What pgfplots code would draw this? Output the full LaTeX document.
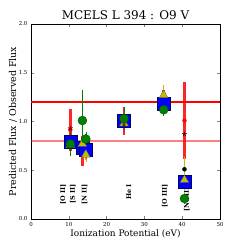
\documentclass[border=0pt]{standalone}
\usepackage{fontspec}
\setmainfont{DejaVu Serif}
\usepackage{pgfplots}
\pgfplotsset{compat=1.18}
\definecolor{mgreen}{rgb}{0,0.5,0}
\definecolor{myellow}{rgb}{0.75,0.75,0}
\begin{document}
\begin{tikzpicture}
\begin{axis}[
  name=ax, at={(0,0)}, anchor=south west,
  scale only axis, width=189bp, height=195bp,
  xmin=0, xmax=50, ymin=0, ymax=2,
  xtick={0,10,20,30,40,50}, ytick={0,0.5,1,1.5,2},
  /pgf/number format/assume math mode=true,
  yticklabel style={/pgf/number format/.cd, fixed, fixed zerofill, precision=1},
  tick align=inside, tick pos=both,
  major tick length=3bp,
  ticklabel style={font=\fontsize{5.5}{6}\selectfont},
  title={MCELS L 394 : O9 V},
  title style={font=\fontsize{12}{13}\selectfont, yshift=-5bp},
  xlabel={Ionization Potential (eV)},
  ylabel={Predicted Flux / Observed Flux},
  xlabel style={font=\fontsize{9}{10}\selectfont, yshift=4bp},
  ylabel style={font=\fontsize{9.5}{10}\selectfont, yshift=-5bp},
  clip=false,
]
% reference lines
\addplot[red, line width=1.1bp] coordinates {(0,1.2) (50,1.2)};
\addplot[red, opacity=0.5, line width=1.1bp] coordinates {(0,0.8) (50,0.8)};
% red thick error bars
\addplot[only marks, mark=none, red, opacity=0.85,
  error bars/.cd, y dir=both, y explicit,
  error bar style={line width=2.6bp, red}, error mark=none]
  coordinates {
  (10.4,0.915) +- (0,0.215)
  (13.6,0.695) +- (0,0.155)
  (14.5,0.72) +- (0,0.12)
  (24.6,1.005) +- (0,0.145)
  (35.1,1.23) +- (0,0.09)
  (40.6,1.01) +- (0,0.39)
  };
% yellow error bars
\addplot[only marks, mark=none,
  error bars/.cd, y dir=both, y explicit,
  error bar style={line width=1.2bp, myellow}, error mark=-,
  error mark options={myellow, mark size=1.5bp}]
  coordinates {
  (10.4,0.78) +- (0,0.06)
  (13.6,0.77) +- (0,0.08)
  (14.5,0.68) +- (0,0.08)
  (24.6,0.98) +- (0,0.05)
  (35.1,1.28) +- (0,0.08)
  (40.6,0.51) +- (0,0.11)
  };
% blue squares
\addplot[only marks, mark=square*, mark size=6.5bp,
  mark options={fill=blue, draw=blue!40!black, line width=0.4bp}]
  coordinates {(10.4,0.79) (13.6,0.73) (14.5,0.71) (24.6,1.01) (35.1,1.18) (40.6,0.38)};
% yellow triangles
\addplot[only marks, mark=triangle*, mark size=5bp,
  mark options={fill=myellow, draw=black!60, line width=0.3bp}]
  coordinates {(10.4,0.76) (13.6,0.77) (14.5,0.66) (24.6,0.98) (35.1,1.27) (40.6,0.40)};
% green error bars and circles
\addplot[only marks, mark=*, mark size=4.5bp, mgreen,
  mark options={fill=mgreen, draw=black!70!green, line width=0.3bp},
  error bars/.cd, y dir=both, y explicit,
  error bar style={line width=0.7bp, mgreen}, error mark=-,
  error mark options={mgreen, mark size=2bp}]
  coordinates {
  (10.4,0.77) +- (0,0.10)
  (13.6,1.01) +- (0,0.29)
  (14.5,0.82) +- (0,0.05)
  (24.6,1.03) +- (0,0.10)
  (35.1,1.12) +- (0,0.04)
  (40.6,0.21) +- (0,0.02)
  };
% stars
\addplot[only marks, mark=star, mark size=2.5bp, black!70!red, line width=0.6bp]
  coordinates {(10.4,0.93) (40.6,0.87) (24.6,0.97)};
% ion labels
\foreach \xx/\lab in {8.5/{[O II]}, 11.1/{[S II]}, 14.2/{[N II]}, 25.9/{He I}, 35.4/{[O III]}, 41.2/{[Ne III]}} {
  \edef\tmp{\noexpand\node[rotate=90, anchor=east, inner sep=0pt, font=\noexpand\fontsize{6.5}{7}\noexpand\selectfont\noexpand\bfseries] at (axis cs:\xx,0.36) {\lab};}
  \tmp
}
\end{axis}
\pgfresetboundingbox
\path (-31bp,-26bp) rectangle (214bp,219bp);
\end{tikzpicture}
\end{document}
